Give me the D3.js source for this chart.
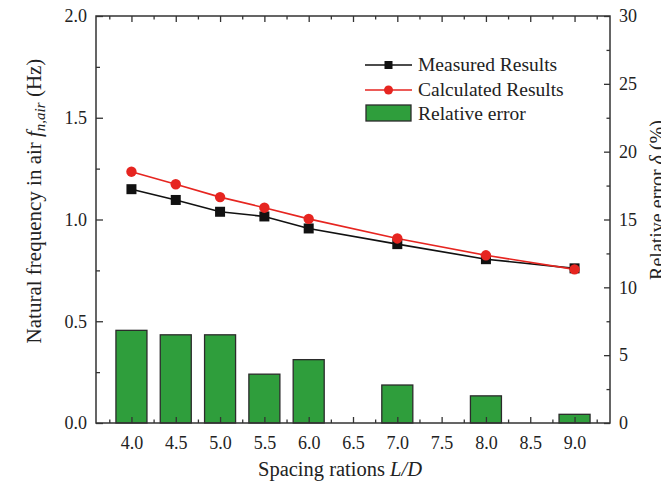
<!DOCTYPE html>
<html>
<head>
<meta charset="utf-8">
<script src="https://cdn.jsdelivr.net/npm/d3@7"></script>
<style>
html,body{margin:0;padding:0;background:#fff;}
svg{display:block;}
text{font-family:"Liberation Serif","Times New Roman",serif;fill:#222;}
</style>
</head>
<body>
<svg id="chart" width="661" height="484"></svg>
<script>
// ---- data ----
const ratios = [4.0, 4.5, 5.0, 5.5, 6.0, 7.0, 8.0, 9.0];
const measured = [1.149, 1.096, 1.038, 1.015, 0.956, 0.879, 0.805, 0.760];
const calculated = [1.235, 1.173, 1.110, 1.058, 1.003, 0.907, 0.824, 0.755];
const relError = [6.83, 6.5, 6.5, 3.6, 4.67, 2.8, 2.0, 0.64];
const xMajorTicks = [4.0, 4.5, 5.0, 5.5, 6.0, 6.5, 7.0, 7.5, 8.0, 8.5, 9.0];
const xMinorTicks = [3.75, 4.25, 4.75, 5.25, 5.75, 6.25, 6.75, 7.25, 7.75, 8.25, 8.75, 9.25];
const yLeftTicks = [0.0, 0.5, 1.0, 1.5, 2.0];
const yLeftMinor = [0.25, 0.75, 1.25, 1.75];
const yRightTicks = [0, 5, 10, 15, 20, 25, 30];
const yRightMinor = [2.5, 7.5, 12.5, 17.5, 22.5, 27.5];
const legendLabels = ["Measured Results", "Calculated Results", "Relative error"];

const svg = d3.select("#chart");
const L = 96, R = 610, T = 16, B = 423;
const x = d3.scaleLinear().domain([3.6, 9.4]).range([L, R]);
const yL = d3.scaleLinear().domain([0, 2]).range([B, T]);
const yR = d3.scaleLinear().domain([0, 30]).range([B, T]);
const barHalf = 0.175;

const green = "#2f9e3c", red = "#e62520", axisCol = "#333";

// bars
svg.append("g").selectAll("rect").data(ratios).join("rect")
  .attr("x", d => x(d - barHalf))
  .attr("width", d => x(d + barHalf) - x(d - barHalf))
  .attr("y", (d, i) => yR(relError[i]))
  .attr("height", (d, i) => yR(0) - yR(relError[i]))
  .attr("fill", green).attr("stroke", "#2b2b2b").attr("stroke-width", 1.3);

// axes
function styleAxis(g){
  g.select(".domain").remove();
  g.selectAll(".tick line").attr("stroke", axisCol).attr("stroke-width", 1.3);
  g.selectAll(".tick text").attr("font-size", 18).attr("fill", "#222")
    .style("font-family", '"Liberation Serif","Times New Roman",serif');
}
svg.append("g").attr("transform", `translate(0,${B})`)
  .call(d3.axisBottom(x).tickValues(xMajorTicks).tickSize(-6).tickPadding(13).tickFormat(d3.format(".1f"))).call(styleAxis);
svg.append("g").attr("transform", `translate(0,${B})`)
  .call(d3.axisBottom(x).tickValues(xMinorTicks).tickSize(-3.5).tickFormat("")).call(styleAxis);
svg.append("g").attr("transform", `translate(0,${T})`)
  .call(d3.axisTop(x).tickValues(xMajorTicks).tickSize(-6).tickFormat("")).call(styleAxis);
svg.append("g").attr("transform", `translate(0,${T})`)
  .call(d3.axisTop(x).tickValues(xMinorTicks).tickSize(-3.5).tickFormat("")).call(styleAxis);
svg.append("g").attr("transform", `translate(${L},0)`)
  .call(d3.axisLeft(yL).tickValues(yLeftTicks).tickSize(-7).tickPadding(9).tickFormat(d3.format(".1f"))).call(styleAxis);
svg.append("g").attr("transform", `translate(${L},0)`)
  .call(d3.axisLeft(yL).tickValues(yLeftMinor).tickSize(-4).tickFormat("")).call(styleAxis);
svg.append("g").attr("transform", `translate(${R},0)`)
  .call(d3.axisRight(yR).tickValues(yRightTicks).tickSize(-6).tickPadding(9).tickFormat(d3.format("d"))).call(styleAxis);
svg.append("g").attr("transform", `translate(${R},0)`)
  .call(d3.axisRight(yR).tickValues(yRightMinor).tickSize(-3.5).tickFormat("")).call(styleAxis);

// frame
svg.append("rect").attr("x", L).attr("y", T).attr("width", R - L).attr("height", B - T)
  .attr("fill", "none").attr("stroke", axisCol).attr("stroke-width", 1.5);

// lines
const lineM = d3.line().x((d, i) => x(ratios[i])).y(d => yL(d));
svg.append("path").datum(measured).attr("d", lineM).attr("fill", "none").attr("stroke", "#111").attr("stroke-width", 1.6);
svg.append("path").datum(calculated).attr("d", lineM).attr("fill", "none").attr("stroke", red).attr("stroke-width", 1.6);
svg.append("g").selectAll("rect").data(measured).join("rect")
  .attr("x", (d, i) => x(ratios[i]) - 5).attr("y", d => yL(d) - 5)
  .attr("width", 10).attr("height", 10).attr("fill", "#111");
svg.append("g").selectAll("circle").data(calculated).join("circle")
  .attr("cx", (d, i) => x(ratios[i])).attr("cy", d => yL(d)).attr("r", 5.2).attr("fill", red);

// legend
const lg = svg.append("g");
lg.append("line").attr("x1", 365).attr("x2", 412).attr("y1", 65).attr("y2", 65).attr("stroke", "#111").attr("stroke-width", 1.6);
lg.append("rect").attr("x", 384.5).attr("y", 61).attr("width", 8).attr("height", 8).attr("fill", "#111");
lg.append("line").attr("x1", 365).attr("x2", 412).attr("y1", 90).attr("y2", 90).attr("stroke", red).attr("stroke-width", 1.6);
lg.append("circle").attr("cx", 388.5).attr("cy", 90).attr("r", 4.5).attr("fill", red);
lg.append("rect").attr("x", 366).attr("y", 105).attr("width", 45).attr("height", 16)
  .attr("fill", green).attr("stroke", "#2b2b2b").attr("stroke-width", 1.3);
lg.selectAll("text").data(legendLabels).join("text")
  .attr("x", 418).attr("y", (d, i) => 71 + i * 24.5).attr("font-size", 19.5).text(d => d);

// axis titles
const xt = svg.append("text").attr("x", 340).attr("y", 476).attr("text-anchor", "middle").attr("font-size", 20.5);
xt.append("tspan").text("Spacing rations ");
xt.append("tspan").attr("font-style", "italic").text("L/D");

const yt = svg.append("text").attr("transform", "translate(41,201) rotate(-90)").attr("text-anchor", "middle").attr("font-size", 21);
yt.append("tspan").text("Natural frequency in air ");
yt.append("tspan").attr("font-style", "italic").text("f");
yt.append("tspan").attr("font-style", "italic").attr("font-size", 15).attr("dy", 4).text("n,air");
yt.append("tspan").attr("dy", -4).text(" (Hz)");

const rt = svg.append("text").attr("transform", "translate(664,200) rotate(-90)").attr("text-anchor", "middle").attr("font-size", 20);
rt.append("tspan").text("Relative error ");
rt.append("tspan").attr("font-style", "italic").text("δ");
rt.append("tspan").text(" (%)");
</script>
</body>
</html>
